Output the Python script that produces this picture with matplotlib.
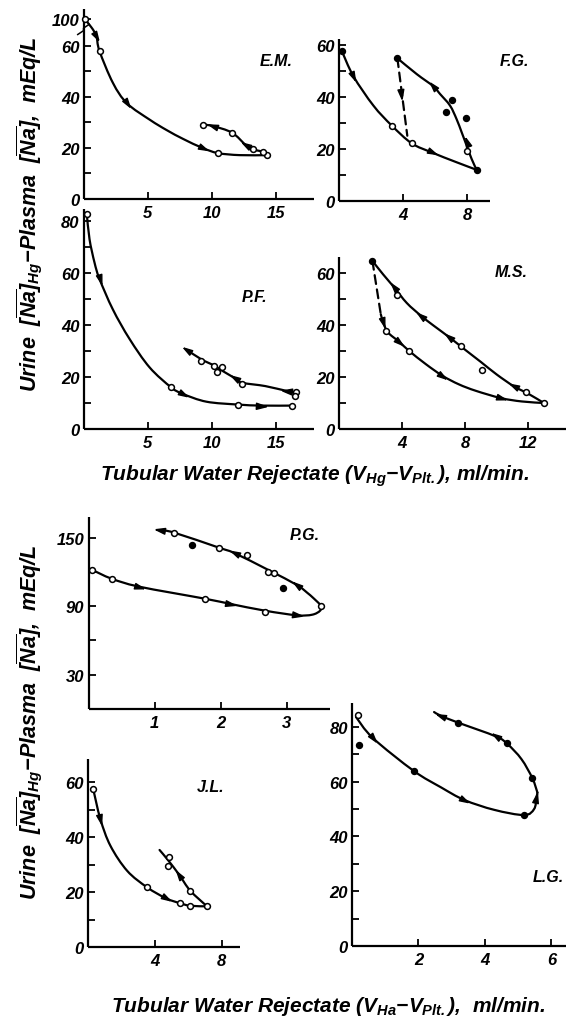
import numpy as np
import matplotlib

matplotlib.use("Agg")
import matplotlib.pyplot as plt
from matplotlib.path import Path
from matplotlib.patches import PathPatch
from matplotlib.transforms import Affine2D

W, H = 566, 1020

plt.rcParams["font.family"] = ["Liberation Sans", "DejaVu Sans"]
plt.rcParams["font.weight"] = "bold"
plt.rcParams["font.style"] = "italic"
plt.rcParams["mathtext.fontset"] = "custom"
plt.rcParams["mathtext.rm"] = "Liberation Sans:bold:italic"
plt.rcParams["mathtext.it"] = "Liberation Sans:bold:italic"
plt.rcParams["mathtext.bf"] = "Liberation Sans:bold:italic"

# --- E.M. (y axis broken between 60 and 100) ---
em_out_x = [0.08, 0.6, 1.0, 1.25, 2.3, 3.4, 5.2, 6.5, 7.8, 9.3, 10.5, 12.2, 14.3]
em_out_y = [100, 88, 75, 58, 45.5, 37.5, 31, 27, 23.5, 20, 18, 17.2, 17.2]
em_back_x = [14.3, 14.0, 13.2, 12.7, 11.6, 10.1, 9.3]
em_back_y = [17.2, 18.5, 19.5, 21, 26, 28.6, 29.2]
em_open_x = [0.08, 1.25, 10.5, 14.3, 14.0, 13.2, 11.6, 9.3]
em_open_y = [100, 58, 18, 17.2, 18.5, 19.5, 26, 29.2]
em_arr_out_x, em_arr_out_y = [1.0, 3.4, 9.3], [75, 37.5, 20]
em_arr_back_x, em_arr_back_y = [12.7, 10.1], [21, 28.6]

# --- F.G. ---
fg_out_x = [0.17, 0.9, 2.15, 3.3, 4.54, 5.79, 7.35, 8.6]
fg_out_y = [57.8, 48, 36.7, 29, 22.2, 18.7, 14.9, 12]
fg_back_x = [8.6, 8.29, 7.98, 7.67, 7.35, 6.94, 6.31, 5.9, 4.86, 3.65]
fg_back_y = [12, 16.2, 21.3, 26.4, 31.5, 36.7, 41.2, 44.1, 48.8, 54.9]
fg_dash_x, fg_dash_y = [3.65, 4.27], [54.9, 25.1]
fg_open_x, fg_open_y = [3.3, 4.54, 7.98], [29, 22.2, 19.4]
fg_fill_x = [0.17, 3.65, 8.6, 7.08, 6.67, 7.95]
fg_fill_y = [57.8, 54.9, 12, 38.8, 34.1, 31.9]
fg_arr_out_x, fg_arr_out_y = [0.9, 5.79], [48, 18.7]
fg_arr_back_x, fg_arr_back_y = [7.98, 5.9], [22.5, 44.1]
fg_arr_dash_x, fg_arr_dash_y = [3.9], [41]

# --- P.F. ---
pf_out_x = [0.26, 0.47, 0.86, 1.25, 2.29, 3.6, 5.16, 6.85, 7.76, 9.6, 12.06, 13.9, 16.3]
pf_out_y = [82.7, 73, 64, 57.7, 46, 34.6, 23.7, 16, 13.5, 10.5, 9.4, 9.0, 9.0]
pf_back_x = [16.6, 15.9, 14.2, 12.4, 11.8, 10.8, 10.2, 9.2, 8.05]
pf_back_y = [14.2, 14.6, 16.5, 17.8, 19.6, 22.5, 24.4, 26.8, 30.5]
pf_open_x = [0.26, 6.85, 12.06, 16.3, 9.2, 10.2, 10.4, 10.8, 12.4, 16.6, 16.5]
pf_open_y = [82.7, 16, 9.4, 9.0, 26.2, 24.2, 21.9, 23.8, 17.3, 14.2, 12.7]
pf_arr_out_x, pf_arr_out_y = [1.25, 7.76, 13.9], [57.7, 13.5, 9.0]
pf_arr_back_x, pf_arr_back_y = [15.9, 11.8, 8.05], [14.6, 19.6, 30.5]

# --- M.S. ---
ms_back_x = [13.0, 12.0, 11.1, 10.0, 9.0, 8.0, 7.0, 6.0, 5.2, 4.3, 3.5, 2.8, 2.12]
ms_back_y = [10, 13.6, 16.4, 21, 25.8, 30.5, 35.3, 39.8, 43.6, 48.5, 54.5, 59.5, 64.7]
ms_out_x = [2.65, 2.81, 3.1, 3.81, 4.44, 5.5, 6.56, 7.6, 8.68, 10.27, 11.6, 13.0]
ms_out_y = [44.2, 41, 37.2, 33.6, 30.1, 25, 20.5, 17.2, 14.7, 11.9, 10.6, 10]
ms_dash_x, ms_dash_y = [2.12, 2.65], [64.7, 44.2]
ms_open_x = [3.70, 7.73, 9.1, 11.89, 13.0, 2.96, 4.44]
ms_open_y = [51.7, 32, 22.8, 14.1, 10, 37.6, 30.1]
ms_fill_x, ms_fill_y = [2.12], [64.7]
ms_arr_back_x, ms_arr_back_y = [11.1, 7.0, 5.2, 3.5], [16.4, 35.3, 43.6, 54.5]
ms_arr_out_x, ms_arr_out_y = [2.81, 3.81, 6.56, 10.27], [41, 33.6, 20.5, 11.9]

# --- P.G. ---
pg_out_x = [0.05, 0.35, 0.77, 1.76, 2.14, 2.67, 3.15, 3.38, 3.5, 3.52]
pg_out_y = [121.9, 114, 107, 96.5, 92, 86, 82, 82.5, 86, 90.4]
pg_back_x = [3.52, 3.4, 3.3, 3.15, 2.72, 2.21, 1.97, 1.29, 1.08]
pg_back_y = [90.4, 97, 102, 108.5, 121.6, 136.3, 141.2, 154.4, 156.5]
pg_open_x = [0.05, 0.35, 1.76, 2.67, 3.52, 2.81, 2.72, 2.39, 1.97, 1.29]
pg_open_y = [121.9, 114, 96.5, 85.1, 90.4, 119, 120, 134.5, 141.2, 154.4]
pg_fill_x, pg_fill_y = [1.56, 2.94], [143.3, 106]
pg_arr_out_x, pg_arr_out_y = [0.77, 2.14, 3.15], [107, 92, 82]
pg_arr_back_x, pg_arr_back_y = [3.15, 2.21, 1.08], [108.5, 136.3, 156.5]

# --- J.L. ---
jl_out_x = [0.34, 0.77, 1.37, 2.37, 3.56, 4.69, 5.54, 6.13, 7.13]
jl_out_y = [57.5, 46.5, 36.8, 27.7, 21.7, 17.7, 15.9, 15, 14.8]
jl_back_x = [7.13, 6.13, 5.48, 4.82, 4.3]
jl_back_y = [14.8, 20.5, 26.2, 31.5, 35.3]
jl_open_x = [0.34, 3.56, 5.54, 6.13, 7.13, 6.13, 4.8, 4.84]
jl_open_y = [57.5, 21.7, 15.9, 15, 14.8, 20.5, 29.6, 32.6]
jl_arr_out_x, jl_arr_out_y = [0.77, 4.69], [46.5, 17.7]
jl_arr_back_x, jl_arr_back_y = [5.48], [26.2]

# --- L.G. ---
lg_out_x = [0.12, 0.63, 1.86, 2.68, 3.38, 4.28, 5.18, 5.48, 5.55, 5.58]
lg_out_y = [83.6, 75.9, 63.9, 57.9, 53.3, 49.7, 47.8, 50, 54, 56]
lg_back_x = [5.58, 5.43, 5.1, 4.68, 4.33, 3.18, 2.68, 2.47]
lg_back_y = [56, 61.2, 68.2, 73.7, 76.5, 81.6, 84, 85.4]
lg_open_x, lg_open_y = [0.18], [84.3]
lg_fill_x = [0.21, 1.86, 5.18, 5.43, 4.66, 3.19]
lg_fill_y = [73.4, 63.9, 47.8, 61.2, 74.1, 81.4]
lg_arr_out_x, lg_arr_out_y = [0.63, 3.38, 5.55], [75.9, 53.3, 54]
lg_arr_back_x, lg_arr_back_y = [4.33, 2.68], [76.5, 84]


def brk(v):
    """Map E.M. values onto the broken axis: 60..100 squeezed into 60..70.6."""
    v = np.asarray(v, dtype=float)
    return np.where(v <= 60, v, 60 + (v - 60) * 10.6 / 40)


def make_axes(fig, left, right, bottom, top, xlim, ylim, xticks, yticks, yminor):
    ax = fig.add_axes([left / W, 1 - bottom / H, (right - left) / W, (bottom - top) / H])
    ax.set_xlim(*xlim)
    ax.set_ylim(*ylim)
    ax.patch.set_alpha(0)
    for side in ("top", "right"):
        ax.spines[side].set_visible(False)
    for side in ("left", "bottom"):
        ax.spines[side].set_linewidth(1.6)
        ax.spines[side].set_capstyle("butt")
    ax.set_xticks(xticks)
    ax.set_xticklabels([str(t) for t in xticks])
    ax.set_yticks(yticks)
    ax.set_yticklabels([str(t) for t in yticks])
    ax.set_yticks(yminor, minor=True)
    ax.tick_params(which="both", direction="in", length=5, width=1.3, labelsize=12)
    ax.tick_params(axis="x", pad=4)
    ax.tick_params(axis="y", pad=3)
    return ax


def curve(ax, xs, ys, dashed=False):
    pts = np.column_stack([xs, ys])
    n = len(pts)
    verts, codes = [pts[0]], [Path.MOVETO]
    for i in range(n - 1):
        p0, p1 = pts[max(i - 1, 0)], pts[i]
        p2, p3 = pts[i + 1], pts[min(i + 2, n - 1)]
        if dashed:
            verts += [p2]
            codes += [Path.LINETO]
        else:
            verts += [p1 + (p2 - p0) / 6, p2 - (p3 - p1) / 6, p2]
            codes += [Path.CURVE4] * 3
    ax.add_patch(PathPatch(Path(verts, codes), fill=False, ec="black", lw=1.6,
                           ls=(0, (4, 2.5)) if dashed else "-", capstyle="round"))


_HEAD = Path([(1.0, 0.0), (-1.0, 0.6), (-1.0, -0.6), (1.0, 0.0)])


def arrows(ax, xs, ys, ax_x, ax_y):
    disp = ax.transData.transform(np.column_stack([xs, ys]))
    for x, y in zip(ax_x, ax_y):
        p = ax.transData.transform((x, y))
        best, seg = None, 0
        for i in range(len(disp) - 1):
            a, b = disp[i], disp[i + 1]
            ab = b - a
            t = np.clip(np.dot(p - a, ab) / max(np.dot(ab, ab), 1e-9), 0, 1)
            d = np.hypot(*(a + t * ab - p))
            if best is None or d < best:
                best, seg = d, i
        dx, dy = disp[seg + 1] - disp[seg]
        ang = np.degrees(np.arctan2(dy, dx))
        head = _HEAD.transformed(Affine2D().rotate_deg(ang))
        ax.plot([x], [y], marker=head, ms=7.5, color="black", ls="none", zorder=4)


def dots(ax, xs, ys, filled=False):
    ax.plot(xs, ys, "o", ms=4.2, mew=1.1, mec="black",
            mfc="black" if filled else "white", zorder=5, clip_on=False)


fig = plt.figure(figsize=(W / 100, H / 100), dpi=100)
fig.patch.set_facecolor("white")

# E.M.
ax = make_axes(fig, 83.5, 314, 200, 10, (0, 18), (0, 74.5), [5, 10, 15], [0, 20, 40, 60], [10, 30, 50])
ax.set_yticks([0, 20, 40, 60, float(brk(100))])
ax.set_yticklabels(["0", "20", "40", "60", "100"])
ax.set_xticklabels(["5", "10", "15"])
curve(ax, em_out_x, brk(em_out_y))
curve(ax, em_back_x, brk(em_back_y))
arrows(ax, em_out_x, brk(em_out_y), em_arr_out_x, brk(em_arr_out_y))
arrows(ax, em_back_x, brk(em_back_y), em_arr_back_x, brk(em_arr_back_y))
dots(ax, em_open_x, brk(em_open_y))
ax.plot([-0.45, 0.0, 0.0, 0.45], [64.5, 66.0, 67.0, 68.5], color="black", lw=1.1, clip_on=False)

# F.G.
ax = make_axes(fig, 339, 490, 202, 40, (0, 9.44), (0, 62.3), [4, 8], [0, 20, 40, 60], [10, 30, 50])
curve(ax, fg_out_x, fg_out_y)
curve(ax, fg_back_x, fg_back_y)
curve(ax, fg_dash_x, fg_dash_y, dashed=True)
arrows(ax, fg_out_x, fg_out_y, fg_arr_out_x, fg_arr_out_y)
arrows(ax, fg_back_x, fg_back_y, fg_arr_back_x, fg_arr_back_y)
arrows(ax, fg_dash_x, fg_dash_y, fg_arr_dash_x, fg_arr_dash_y)
dots(ax, fg_open_x, fg_open_y)
dots(ax, fg_fill_x, fg_fill_y, filled=True)

# P.F.
ax = make_axes(fig, 83.5, 314, 430, 210, (0, 18), (0, 84.6), [5, 10, 15], [0, 20, 40, 60, 80], [10, 30, 50, 70])
curve(ax, pf_out_x, pf_out_y)
curve(ax, pf_back_x, pf_back_y)
arrows(ax, pf_out_x, pf_out_y, pf_arr_out_x, pf_arr_out_y)
arrows(ax, pf_back_x, pf_back_y, pf_arr_back_x, pf_arr_back_y)
dots(ax, pf_open_x, pf_open_y)

# M.S.
ax = make_axes(fig, 339, 566, 430, 258, (0, 14.4), (0, 66.2), [4, 8, 12], [0, 20, 40, 60], [10, 30, 50])
curve(ax, ms_back_x, ms_back_y)
curve(ax, ms_out_x, ms_out_y)
curve(ax, ms_dash_x, ms_dash_y, dashed=True)
arrows(ax, ms_back_x, ms_back_y, ms_arr_back_x, ms_arr_back_y)
arrows(ax, ms_out_x, ms_out_y, ms_arr_out_x, ms_arr_out_y)
dots(ax, ms_open_x, ms_open_y)
dots(ax, ms_fill_x, ms_fill_y, filled=True)

# P.G.
ax = make_axes(fig, 88.5, 330, 710, 518, (0, 3.65), (0, 168), [1, 2, 3], [30, 90, 150], [60, 120])
curve(ax, pg_out_x, pg_out_y)
curve(ax, pg_back_x, pg_back_y)
arrows(ax, pg_out_x, pg_out_y, pg_arr_out_x, pg_arr_out_y)
arrows(ax, pg_back_x, pg_back_y, pg_arr_back_x, pg_arr_back_y)
dots(ax, pg_open_x, pg_open_y)
dots(ax, pg_fill_x, pg_fill_y, filled=True)

# J.L.
ax = make_axes(fig, 87.5, 240, 948, 760, (0, 9.1), (0, 68.4), [4, 8], [0, 20, 40, 60], [10, 30, 50])
curve(ax, jl_out_x, jl_out_y)
curve(ax, jl_back_x, jl_back_y)
arrows(ax, jl_out_x, jl_out_y, jl_arr_out_x, jl_arr_out_y)
arrows(ax, jl_back_x, jl_back_y, jl_arr_back_x, jl_arr_back_y)
dots(ax, jl_open_x, jl_open_y)

# L.G.
ax = make_axes(fig, 352, 566, 947, 704, (0, 6.44), (0, 88.7), [2, 4, 6], [0, 20, 40, 60, 80], [10, 30, 50, 70])
curve(ax, lg_out_x, lg_out_y)
curve(ax, lg_back_x, lg_back_y)
arrows(ax, lg_out_x, lg_out_y, lg_arr_out_x, lg_arr_out_y)
arrows(ax, lg_back_x, lg_back_y, lg_arr_back_x, lg_arr_back_y)
dots(ax, lg_open_x, lg_open_y)
dots(ax, lg_fill_x, lg_fill_y, filled=True)

# panel names
for name, px, py in [("E.M.", 260, 62), ("F.G.", 500, 62), ("P.F.", 242, 297),
                     ("M.S.", 495, 273), ("P.G.", 290, 535), ("J.L.", 197, 788),
                     ("L.G.", 533, 877)]:
    fig.text(px / W, 1 - py / H, name, ha="left", va="center", fontsize=11.5)

xlab = r"Tubular Water Rejectate ($V_{Hg}$$-$$V_{Plt.}$), ml/min."
xlab2 = r"Tubular Water Rejectate ($V_{Ha}$$-$$V_{Plt.}$),  ml/min."
ylab = r"Urine  $[\overline{Na}]_{Hg}$$-$Plasma  $[\overline{Na}]$,  mEq/L"
fig.text(315 / W, 1 - 476 / H, xlab, ha="center", va="center", fontsize=15)
fig.text(328 / W, 1 - 1007 / H, xlab2, ha="center", va="center", fontsize=15)
fig.text(30 / W, 1 - 214 / H, ylab, ha="center", va="center", rotation=90, fontsize=15.5)
fig.text(30 / W, 1 - 722 / H, ylab, ha="center", va="center", rotation=90, fontsize=15.5)

fig.savefig("out.png", dpi=100)
